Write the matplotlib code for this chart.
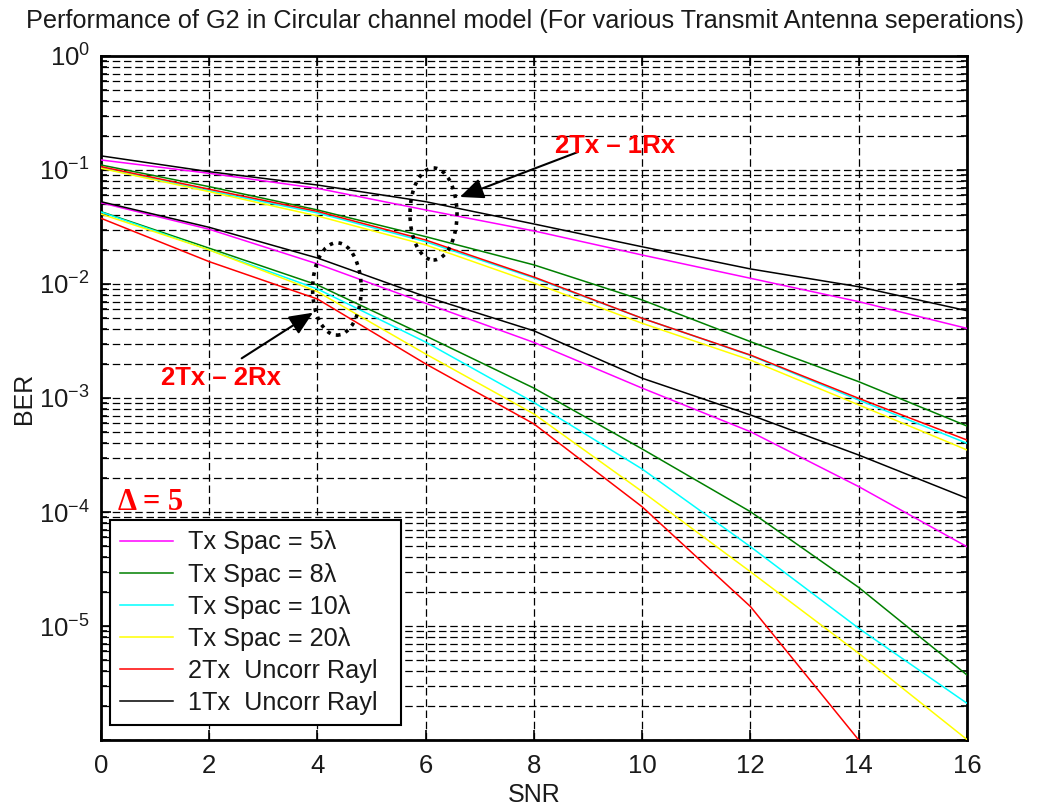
import matplotlib
matplotlib.use('Agg')
import matplotlib.pyplot as plt
from matplotlib.patches import Ellipse
from matplotlib.ticker import LogLocator, NullFormatter

plt.rcParams['font.family'] = ['Liberation Sans', 'DejaVu Sans']

snr = [0, 2, 4, 6, 8, 10, 12, 14, 16]

# 2Tx - 1Rx curves
ber1_5lam = [0.1224, 0.0935, 0.069, 0.0446, 0.0292, 0.01795, 0.01122, 0.0070, 0.00408]
ber1_8lam = [0.1106, 0.0714, 0.0446, 0.026, 0.0147, 0.00724, 0.00312, 0.00139, 0.000568]
ber1_10lam = [0.1047, 0.0658, 0.042, 0.0235, 0.0113, 0.0050, 0.00236, 0.00096, 0.000401]
ber1_20lam = [0.1035, 0.0645, 0.0395, 0.022, 0.0102, 0.00452, 0.00215, 0.00087, 0.00035]
ber1_2tx = [0.107, 0.0678, 0.0433, 0.0243, 0.0115, 0.0050, 0.00238, 0.000993, 0.000428]
ber1_1tx = [0.133, 0.0966, 0.0738, 0.0527, 0.0336, 0.0212, 0.01355, 0.00946, 0.00583]

# 2Tx - 2Rx curves
ber2_5lam = [0.0516, 0.0302, 0.015, 0.00677, 0.00307, 0.00122, 0.000506, 0.000167, 0.0000496]
ber2_8lam = [0.0431, 0.0206, 0.0098, 0.0035, 0.00122, 0.000357, 0.0001006, 0.0000218, 0.00000372]
ber2_10lam = [0.0428, 0.0199, 0.00904, 0.00309, 0.000912, 0.000238, 0.0000496, 0.00000955, 0.0000021]
ber2_20lam = [0.0411, 0.0199, 0.00855, 0.00243, 0.000724, 0.000151, 0.0000299, 0.00000576, 0.00000101]
ber2_2tx = [0.0377, 0.0157, 0.00738, 0.00199, 0.000592, 0.000111, 0.0000148, 0.000001]
ber2_1tx = [0.0527, 0.0314, 0.0169, 0.00774, 0.00388, 0.00149, 0.00071, 0.000316, 0.000132]

labels = ['Tx Spac = 5\u03bb', 'Tx Spac = 8\u03bb', 'Tx Spac = 10\u03bb',
          'Tx Spac = 20\u03bb', '2Tx  Uncorr Rayl', '1Tx  Uncorr Rayl']
colors = ['#ff00ff', '#008000', '#00ffff', '#ffff00', '#ff0000', '#000000']

x_ticks = [0, 2, 4, 6, 8, 10, 12, 14, 16]
y_ticks = [1e-6, 1e-5, 1e-4, 1e-3, 1e-2, 1e-1, 1e0]
y_ticklabels = ['', r'$\mathdefault{10^{-5}}$', r'$\mathdefault{10^{-4}}$',
                r'$\mathdefault{10^{-3}}$', r'$\mathdefault{10^{-2}}$',
                r'$\mathdefault{10^{-1}}$', r'$\mathdefault{10^{0}}$']

group1 = [ber1_5lam, ber1_8lam, ber1_10lam, ber1_20lam, ber1_2tx, ber1_1tx]
group2 = [ber2_5lam, ber2_8lam, ber2_10lam, ber2_20lam, ber2_2tx, ber2_1tx]

fig = plt.figure(figsize=(10.42, 8.10), dpi=100)
ax = fig.add_axes([0.0969, 0.0864, 0.8311, 0.8445])
ax.set_yscale('log')

handles = []
for ys, c, lab in zip(group1, colors, labels):
    h, = ax.plot(snr[:len(ys)], ys, color=c, lw=1.1, label=lab, zorder=3)
    handles.append(h)
for ys, c in zip(group2, colors):
    ax.plot(snr[:len(ys)], ys, color=c, lw=1.1, zorder=3)

ax.set_xlim(0, 16)
ax.set_ylim(1e-6, 1)
ax.set_xticks(x_ticks)
ax.set_yticks(y_ticks)
ax.set_yticklabels(y_ticklabels)
ax.yaxis.set_minor_locator(LogLocator(base=10, subs=range(2, 10), numticks=20))
ax.yaxis.set_minor_formatter(NullFormatter())

ax.grid(True, which='both', color='k', lw=0.9, ls=(0, (6, 3)), zorder=1)
ax.tick_params(which='both', direction='in', top=True, right=True,
               labelsize=18.5, width=1.2, labelcolor='#1a1a1a')
ax.tick_params(axis='x', pad=10)
ax.tick_params(axis='y', pad=8)
ax.tick_params(which='major', length=7)
ax.tick_params(which='minor', length=4)
for s in ax.spines.values():
    s.set_linewidth(2)

ax.set_title('Performance of G2 in Circular channel model (For various Transmit Antenna seperations)',
             fontsize=18.2, pad=20, color='#1a1a1a', x=0.49)
ax.set_xlabel('SNR', fontsize=18, labelpad=4, color='#1a1a1a')
ax.set_ylabel('BER', fontsize=18, labelpad=2, color='#1a1a1a')

leg = ax.legend(handles=handles, loc='lower left',
                bbox_to_anchor=(0.0104, 0.0219, 0.336, 0.3045), mode='expand',
                borderaxespad=0, fontsize=18.2, frameon=True, fancybox=False,
                edgecolor='k', framealpha=1, handlelength=2.1, labelspacing=0.32,
                handletextpad=0.6, borderpad=0.4)
leg.get_frame().set_linewidth(1.5)
leg.set_zorder(5)
for t in leg.get_texts():
    t.set_color('#1a1a1a')

ax.text(0.31, 1.04e-4, '\u0394 = 5', color='red', fontsize=22, fontweight='bold',
        family='Liberation Serif', va='baseline', ha='left', zorder=6)

ax.add_patch(Ellipse((0.384, 0.769), 0.0543, 0.1345, transform=ax.transAxes,
                     fill=False, ls=(0, (1, 1.5)), lw=2.6, color='k', zorder=4))
ax.add_patch(Ellipse((0.2725, 0.6594), 0.0562, 0.135, transform=ax.transAxes,
                     fill=False, ls=(0, (1, 1.5)), lw=2.6, color='k', zorder=4))

arrow = dict(arrowstyle='-|>,head_length=0.8,head_width=0.35', color='k', lw=1.5,
             mutation_scale=18, shrinkA=0, shrinkB=0)
ax.annotate('', xy=(0.4145, 0.7939), xytext=(0.5508, 0.8596),
            xycoords='axes fraction', textcoords='axes fraction', arrowprops=arrow)
ax.annotate('', xy=(0.2448, 0.6247), xytext=(0.1625, 0.5580),
            xycoords='axes fraction', textcoords='axes fraction', arrowprops=arrow)
ax.text(0.5935, 0.8684, '2Tx \u2013 1Rx', transform=ax.transAxes, color='red',
        fontsize=18.5, fontweight='bold', ha='center', va='center', zorder=6)
ax.text(0.1391, 0.5292, '2Tx \u2013 2Rx', transform=ax.transAxes, color='red',
        fontsize=18.5, fontweight='bold', ha='center', va='center', zorder=6)

fig.savefig('out.png', dpi=100)
